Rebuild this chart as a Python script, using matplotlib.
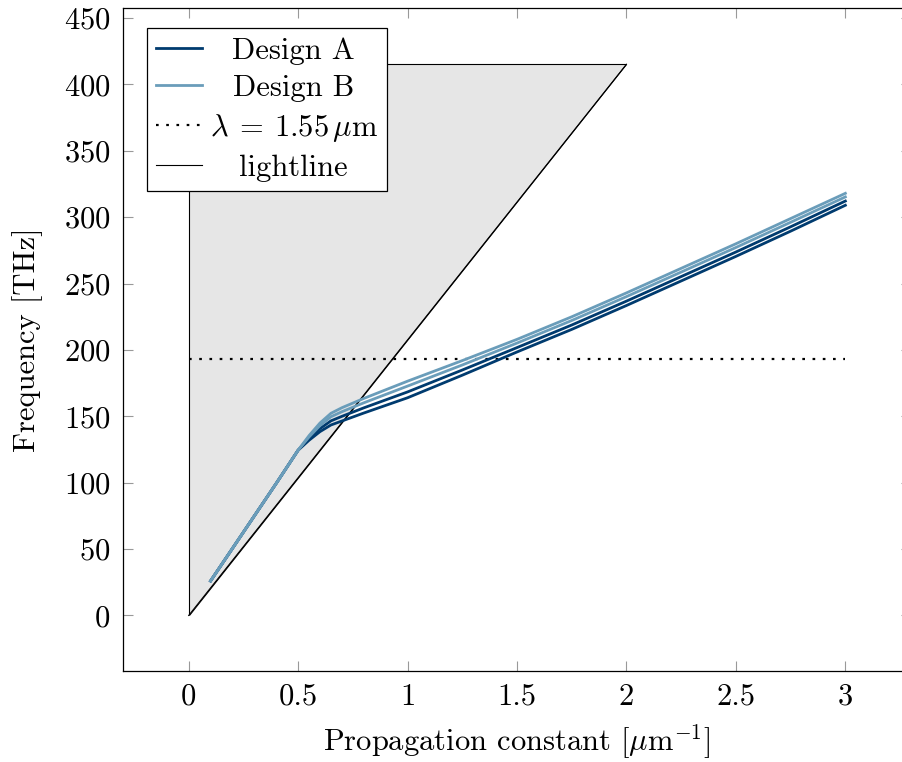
import numpy as np
import matplotlib
matplotlib.use('Agg')
import matplotlib.pyplot as plt

plt.rcParams['font.family'] = ['cmr10', 'DejaVu Serif']
plt.rcParams['mathtext.fontset'] = 'cm'
plt.rcParams['axes.formatter.use_mathtext'] = True
plt.rcParams['font.size'] = 22

# propagation constant samples [1/um]
beta = [0.1, 0.2, 0.3, 0.4, 0.5, 0.55, 0.6, 0.65, 0.7, 0.8, 1.0, 1.25, 1.5, 1.75, 2.0, 2.25, 2.5, 2.75, 3.0]
# frequencies [THz]
design_b1 = [26, 50.5, 75, 99.5, 124.5, 135.5, 145, 152.3, 156.5, 163.5, 176.5, 192, 208, 225, 243, 261.5, 280, 299, 318]
design_b2 = [26, 50.5, 75, 99.5, 124.5, 134.5, 143.1, 149.7, 153.5, 160.2, 172.8, 188.7, 205.2, 222.2, 240.2, 258.7, 277.2, 296.2, 315.3]
design_a1 = [26, 50.5, 75, 99.5, 124.5, 133.2, 140.8, 146.6, 150, 156.4, 168.4, 184.9, 201.8, 218.8, 236.8, 255.3, 273.8, 292.8, 312.2]
design_a2 = [26, 50.5, 75, 99.5, 124.5, 132, 138.5, 143.5, 146.5, 152.5, 164, 181, 198.5, 215.5, 233.5, 252, 270.5, 289.5, 309]

n_silica = 1.444
f_155 = 299.792458 / 1.55
lightline_x = [0, 2]
lightline_y = [0, 2 * 299.792458 / n_silica]

col_a = '#003b6f'
col_b = '#6a9dba'

fig = plt.figure(figsize=(9.03, 7.62), dpi=100)
ax = fig.add_axes([0.1362, 0.1198, 0.8727, 0.8697])

# light cone region
ax.fill([0, 0, lightline_x[1]], [0, lightline_y[1], lightline_y[1]], facecolor='#e6e6e6',
        edgecolor='black', linewidth=0.8, zorder=1)

ax.plot(beta, design_a1, color=col_a, linewidth=2.0, zorder=3, label='Design A')
ax.plot(beta, design_a2, color=col_a, linewidth=2.0, zorder=3)
ax.plot(beta, design_b1, color=col_b, linewidth=2.0, zorder=4, label='Design B')
ax.plot(beta, design_b2, color=col_b, linewidth=2.0, zorder=4)
ax.plot([0, 3], [f_155, f_155], color='black', linewidth=1.6, linestyle=(0, (1.2, 3.4)),
        zorder=2, label=r'$\lambda\:=\:1.55\,\mu\mathrm{m}$')
ax.plot(lightline_x, lightline_y, color='black', linewidth=0.8, zorder=2, label='lightline')

ax.set_xlim(-0.3, 3.3)
ax.set_ylim(-41.6, 457.6)
ax.set_xticks([0, 0.5, 1, 1.5, 2, 2.5, 3])
ax.set_xticklabels(['0', '0.5', '1', '1.5', '2', '2.5', '3'])
ax.set_yticks(np.arange(0, 451, 50))
ax.tick_params(direction='in', length=7.5, width=0.8, color='#999999', top=True, right=True, pad=9)
for s in ax.spines.values():
    s.set_linewidth(0.9)

ax.set_xlabel(r'Propagation constant [$\mu$m$^{-1}$]', labelpad=8)
ax.set_ylabel('Frequency [THz]', labelpad=15)

leg = ax.legend(loc='upper left', bbox_to_anchor=(0.0305, 0.970), borderaxespad=0,
                fancybox=False, edgecolor='black', framealpha=1, handlelength=1.5,
                handletextpad=0.25, labelspacing=0.33, borderpad=0.3)
leg.get_frame().set_linewidth(0.9)

# centre the legend texts like pgfplots does
fig.canvas.draw()
r = fig.canvas.get_renderer()
widths = [t.get_window_extent(r).width for t in leg.get_texts()]
for t, w in zip(leg.get_texts(), widths):
    t.set_x((max(widths) - w) / 2)

fig.savefig('out.png', dpi=100)
